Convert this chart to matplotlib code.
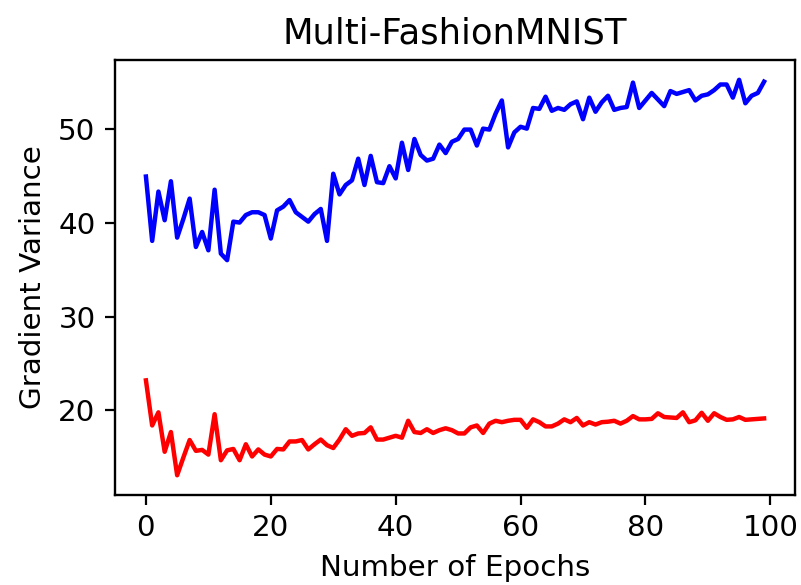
import numpy as np
import matplotlib
matplotlib.use("Agg")
import matplotlib.pyplot as plt

# gradient variance per epoch for the two runs
epochs = np.arange(100)

variance_blue = [
    44.9, 38.05, 43.3, 40.25, 44.4, 38.4, 40.4, 42.55, 37.4, 39.0,
    37.05, 43.5, 36.7, 36.0, 40.1, 40.0, 40.8, 41.1, 41.1, 40.8,
    38.3, 41.3, 41.7, 42.4, 41.1, 40.6, 40.1, 40.9, 41.45, 38.05,
    45.2, 43.0, 44.0, 44.5, 46.8, 44.0, 47.1, 44.3, 44.2, 46.0,
    44.7, 48.5, 45.6, 48.9, 47.2, 46.6, 46.8, 48.3, 47.4, 48.6,
    48.9, 49.9, 49.9, 48.2, 50.0, 49.9, 51.6, 53.0, 48.0, 49.6,
    50.2, 50.0, 52.2, 52.1, 53.4, 51.9, 52.2, 52.0, 52.6, 52.9,
    51.0, 53.3, 51.8, 52.8, 53.5, 52.0, 52.2, 52.3, 54.9, 52.2,
    53.0, 53.8, 53.1, 52.4, 54.0, 53.7, 53.9, 54.1, 53.0, 53.5,
    53.65, 54.1, 54.7, 54.7, 53.3, 55.2, 52.7, 53.5, 53.8, 55.0,
]

variance_red = [
    23.2, 18.4, 19.8, 15.6, 17.7, 13.1, 15.0, 16.85, 15.7, 15.8,
    15.3, 19.6, 14.7, 15.75, 15.9, 14.7, 16.4, 15.1, 15.85, 15.3,
    15.1, 15.9, 15.85, 16.7, 16.7, 16.85, 15.85, 16.4, 16.9, 16.3,
    16.0, 16.9, 18.0, 17.3, 17.55, 17.6, 18.2, 16.9, 16.9, 17.1,
    17.3, 17.1, 18.9, 17.7, 17.6, 18.0, 17.6, 17.9, 18.1, 17.9,
    17.55, 17.55, 18.2, 18.4, 17.6, 18.6, 18.9, 18.75, 18.9, 19.0,
    19.0, 18.15, 19.05, 18.75, 18.3, 18.3, 18.6, 19.05, 18.75, 19.2,
    18.4, 18.75, 18.5, 18.75, 18.8, 18.9, 18.6, 18.9, 19.4, 19.05,
    19.05, 19.1, 19.7, 19.3, 19.25, 19.2, 19.8, 18.75, 18.95, 19.75,
    18.9, 19.7, 19.3, 19.0, 19.05, 19.3, 19.0, 19.05, 19.1, 19.15,
]

plt.rcParams["font.size"] = 10.6
plt.rcParams["axes.linewidth"] = 0.85

fig, ax = plt.subplots(figsize=(4.005, 2.925), dpi=200)
fig.subplots_adjust(left=0.1436, right=0.9925, top=0.8974, bottom=0.1538)

ax.plot(epochs, variance_blue, color="blue", linewidth=1.6)
ax.plot(epochs, variance_red, color="red", linewidth=1.6)

ax.set_xticks([0, 20, 40, 60, 80, 100])
ax.set_yticks([20, 30, 40, 50])
ax.set_xlabel("Number of Epochs")
ax.set_ylabel("Gradient Variance")
ax.set_title("Multi-FashionMNIST", fontsize=12.75)

fig.savefig("out.png", dpi=200)
